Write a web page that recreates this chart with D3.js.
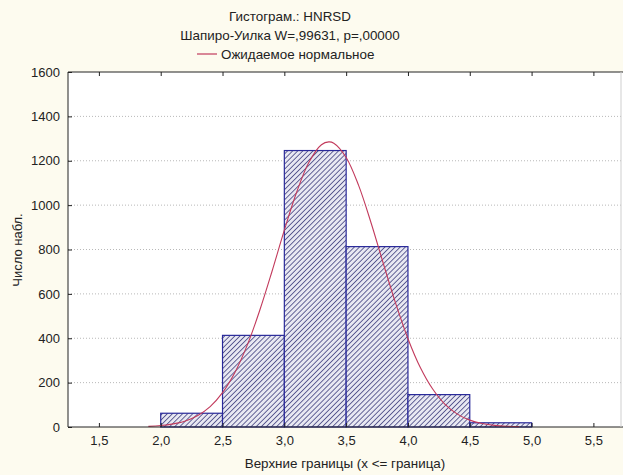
<!DOCTYPE html>
<html><head><meta charset="utf-8">
<script src="https://cdn.jsdelivr.net/npm/d3@7"></script>
<style>
html,body{margin:0;padding:0;background:#fdfbef;}
svg{display:block;}
text{font-family:"Liberation Sans",Arial,sans-serif;fill:#222;}
</style></head>
<body>
<svg id="chart" width="623" height="475"></svg>
<script>
// Histogram bins (upper bounds) and counts
const binStarts = [1.5, 2.0, 2.5, 3.0, 3.5, 4.0, 4.5, 5.0];
const binEnds   = [2.0, 2.5, 3.0, 3.5, 4.0, 4.5, 5.0, 5.5];
const counts    = [0, 62, 413, 1246, 813, 146, 19, 0];
// Expected normal curve
const curveX = [1.9,2.0,2.1,2.2,2.3,2.4,2.5,2.6,2.7,2.8,2.9,3.0,3.1,3.2,3.3,3.36,3.4,3.5,3.6,3.7,3.8,3.9,4.0,4.1,4.2,4.3,4.4,4.5,4.6,4.7,4.8,4.9];
const curveY = [3,6.5,14,27,52,92,155,246,369,524,701,887,1059,1194,1272,1285,1279,1215,1090,923,738,558,398,268,171,102,58,31,16,7.5,3.4,1.5];
const xTicks = [1.5,2.0,2.5,3.0,3.5,4.0,4.5,5.0,5.5];
const yTicks = [0,200,400,600,800,1000,1200,1400,1600];
const title1 = "Гистограм.: HNRSD";
const title2 = "Шапиро-Уилка W=,99631, p=,00000";
const legendLabel = "Ожидаемое нормальное";
const xTitle = "Верхние границы (x <= граница)";
const yTitle = "Число набл.";

const svg = d3.select("#chart");
const L = 68, R = 624.3, T = 72, B = 427;
const FS = 13, TFS = 13.4;
const x = d3.scaleLinear().domain([1.25, 5.75]).range([L, R]);
const y = d3.scaleLinear().domain([0, 1600]).range([B, T]);
const fmt = d => d3.format(".1f")(d).replace(".", ",");

const defs = svg.append("defs");
const pat = defs.append("pattern").attr("id","hatch").attr("patternUnits","userSpaceOnUse")
  .attr("width",3.6).attr("height",3.6).attr("patternTransform","rotate(45)");
pat.append("rect").attr("width",3.6).attr("height",3.6).attr("fill","#e8e8f2");
pat.append("line").attr("x1",0).attr("y1",0).attr("x2",0).attr("y2",3.6)
  .attr("stroke","#2a2a70").attr("stroke-width",1.4);

// plot area
svg.append("rect").attr("x",L).attr("y",T).attr("width",R-L).attr("height",B-T).attr("fill","#ffffff");

// grid
svg.append("g").selectAll("line").data(yTicks.filter(d=>d>0 && d<1600)).join("line")
  .attr("x1",L).attr("x2",R).attr("y1",d=>y(d)).attr("y2",d=>y(d))
  .attr("stroke","#b8b8b8").attr("stroke-width",1).attr("stroke-dasharray","1,2");

// bars
const bins = binStarts.map((s,i)=>({s, e:binEnds[i], c:counts[i]})).filter(d=>d.c>0);
svg.append("g").selectAll("rect").data(bins).join("rect")
  .attr("x",d=>x(d.s)).attr("y",d=>y(d.c))
  .attr("width",d=>x(d.e)-x(d.s)).attr("height",d=>y(0)-y(d.c))
  .attr("fill","url(#hatch)").attr("stroke","#2a2a9a").attr("stroke-width",1.2);

// normal curve
const line = d3.line().x((d,i)=>x(curveX[i])).y(d=>y(d)).curve(d3.curveCatmullRom);
svg.append("path").datum(curveY).attr("d",line)
  .attr("fill","none").attr("stroke","#c23a5c").attr("stroke-width",1.1);

// frame
svg.append("line").attr("x1",L).attr("x2",R).attr("y1",T).attr("y2",T).attr("stroke","#222");
svg.append("line").attr("x1",L).attr("x2",R).attr("y1",B).attr("y2",B).attr("stroke","#222");
svg.append("line").attr("x1",L).attr("x2",L).attr("y1",T).attr("y2",B).attr("stroke","#222");
svg.append("line").attr("x1",621).attr("x2",621).attr("y1",T).attr("y2",B).attr("stroke","#cfcfcf");

// axes
const xAxis = d3.axisBottom(x).tickValues(xTicks).tickFormat(fmt).tickSize(-4).tickPadding(9);
const gx = svg.append("g").attr("transform",`translate(0,${B})`).call(xAxis);
gx.select(".domain").remove();
gx.selectAll("text").attr("font-size",FS).attr("fill","#333").attr("font-family","Liberation Sans, Arial, sans-serif");
gx.selectAll("line").attr("stroke","#222");
const xTop = d3.axisTop(x).tickValues(xTicks).tickFormat("").tickSize(-4);
const gxt = svg.append("g").attr("transform",`translate(0,${T})`).call(xTop);
gxt.select(".domain").remove(); gxt.selectAll("line").attr("stroke","#222");

const yAxis = d3.axisLeft(y).tickValues(yTicks).tickFormat(d3.format("d")).tickSize(-4).tickPadding(8);
const gy = svg.append("g").attr("transform",`translate(${L},0)`).call(yAxis);
gy.select(".domain").remove();
gy.selectAll("text").attr("font-size",FS).attr("fill","#333").attr("font-family","Liberation Sans, Arial, sans-serif");
gy.selectAll("line").attr("stroke","#222");

// titles
svg.append("text").attr("x",290).attr("y",21).attr("text-anchor","middle").attr("font-size",TFS).text(title1);
svg.append("text").attr("x",290).attr("y",40).attr("text-anchor","middle").attr("font-size",TFS).text(title2);
svg.append("line").attr("x1",197).attr("x2",217).attr("y1",54).attr("y2",54).attr("stroke","#c23a5c").attr("stroke-width",1.2);
svg.append("text").attr("x",221).attr("y",58.5).attr("font-size",TFS).text(legendLabel);
svg.append("text").attr("x",345).attr("y",468).attr("text-anchor","middle").attr("font-size",TFS).text(xTitle);
svg.append("text").attr("transform","translate(22,250) rotate(-90)").attr("text-anchor","middle").attr("font-size",FS).text(yTitle);
</script>
</body></html>
